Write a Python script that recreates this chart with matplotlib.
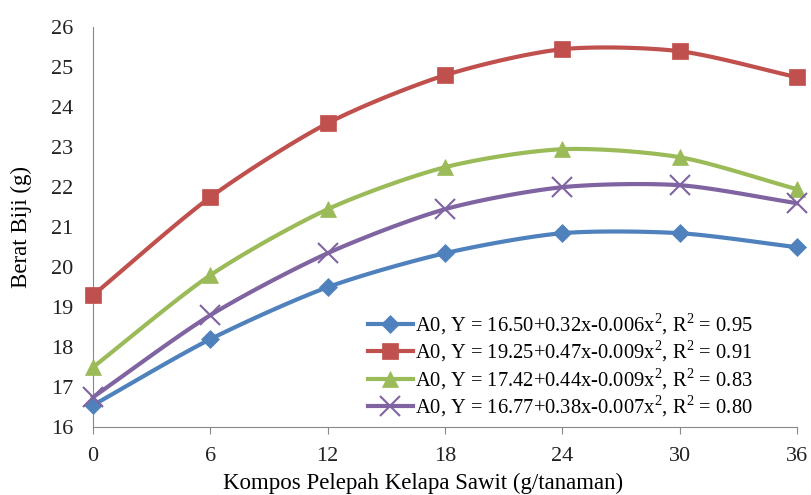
import numpy as np
import matplotlib
matplotlib.use("Agg")
import matplotlib.pyplot as plt

x_vals = [0, 6, 12, 18, 24, 30, 36]
s1 = [16.55, 18.2, 19.5, 20.35, 20.85, 20.85, 20.5]
s2 = [19.3, 21.75, 23.6, 24.8, 25.45, 25.4, 24.75]
s3 = [17.5, 19.8, 21.45, 22.5, 22.95, 22.75, 21.95]
s4 = [16.75, 18.8, 20.35, 21.45, 22.0, 22.05, 21.6]
labels = [
    r"A0, Y = 16.50+0.32x-0.006x$^{2}$, R$^{2}$ = 0.95",
    r"A0, Y = 19.25+0.47x-0.009x$^{2}$, R$^{2}$ = 0.91",
    r"A0, Y = 17.42+0.44x-0.009x$^{2}$, R$^{2}$ = 0.83",
    r"A0, Y = 16.77+0.38x-0.007x$^{2}$, R$^{2}$ = 0.80",
]
colors = ["#4F81BD", "#C0504D", "#9BBB59", "#8064A2"]
markers = ["D", "s", "^", "x"]
msizes = [9, 11, 11, 14]

plt.rcParams['font.family'] = ['Liberation Serif', 'DejaVu Serif']
plt.rcParams['mathtext.fontset'] = 'custom'
plt.rcParams['mathtext.rm'] = 'Liberation Serif'


def smooth(xs, ys, n=20):
    # Catmull-Rom style smoothing (like Excel smoothed lines)
    xs = np.asarray(xs, float); ys = np.asarray(ys, float)
    px = np.concatenate([[2*xs[0]-xs[1]], xs, [2*xs[-1]-xs[-2]]])
    py = np.concatenate([[2*ys[0]-ys[1]], ys, [2*ys[-1]-ys[-2]]])
    ox, oy = [], []
    for i in range(1, len(px)-2):
        t = np.linspace(0, 1, n, endpoint=False)
        for arr, out in ((px, ox), (py, oy)):
            p0, p1, p2, p3 = arr[i-1], arr[i], arr[i+1], arr[i+2]
            m1 = (p2 - p0) / 2 * 0.8
            m2 = (p3 - p1) / 2 * 0.8
            h00 = 2*t**3 - 3*t**2 + 1
            h10 = t**3 - 2*t**2 + t
            h01 = -2*t**3 + 3*t**2
            h11 = t**3 - t**2
            out.extend(h00*p1 + h10*m1 + h01*p2 + h11*m2)
    ox.append(xs[-1]); oy.append(ys[-1])
    return np.array(ox), np.array(oy)


fig = plt.figure(figsize=(8.11, 4.95), dpi=100)
ax = fig.add_axes([0.1147, 0.137, 0.868, 0.808])

for ys, c, m, ms, lab in zip([s1, s2, s3, s4], colors, markers, msizes, labels):
    sx, sy = smooth(x_vals, ys)
    ax.plot(sx, sy, color=c, lw=3, zorder=2, clip_on=False)
    mew = 1.5 if m == "x" else 0.5
    ax.plot(x_vals, ys, linestyle="none", marker=m, color=c, markersize=ms,
            markeredgewidth=mew, zorder=3, clip_on=False)
    ax.plot([], [], color=c, lw=3, marker=m, markersize=ms,
            markeredgewidth=mew, label=lab)

ax.set_xlim(0, 36)
ax.set_ylim(16, 26)
ax.set_xticks(x_vals)
ax.set_yticks(np.arange(16, 27, 1))
ax.tick_params(axis='both', labelsize=16, colors="#222222")
ax.tick_params(axis='y', length=0, pad=14)
ax.tick_params(axis='x', length=5, color="#888888", pad=9)
for s in ["top", "right"]:
    ax.spines[s].set_visible(False)
for s in ["left", "bottom"]:
    ax.spines[s].set_color("#888888")
ax.set_xlabel("Kompos Pelepah Kelapa Sawit (g/tanaman)", fontsize=16.5)
ax.set_ylabel("Berat Biji (g)", fontsize=16.5)
ax.xaxis.set_label_coords(0.469, -0.115)
ax.yaxis.set_label_coords(-0.087, 0.5)

ax.legend(loc="lower right", bbox_to_anchor=(0.937, 0.02), frameon=False,
          fontsize=14.8, handlelength=2.2, handletextpad=0.1,
          labelspacing=0.1, borderaxespad=0, borderpad=0)

fig.savefig("out.png", dpi=100)
